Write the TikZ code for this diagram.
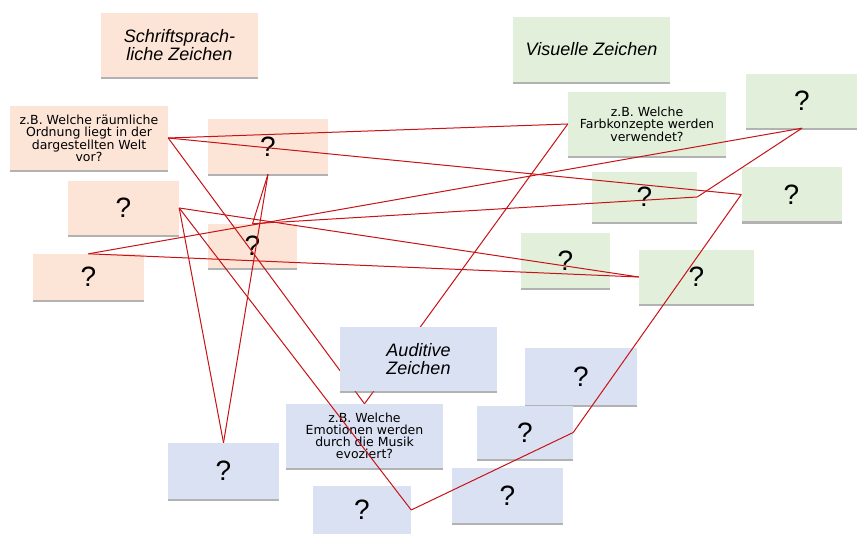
\documentclass[tikz,border=0pt]{standalone}
\usepackage{fontspec}
\setmainfont{Liberation Sans}
\newfontfamily\handfont{DejaVu Sans}
\usetikzlibrary{shadows}
\definecolor{peach}{RGB}{252,228,214}
\definecolor{leaf}{RGB}{226,239,218}
\definecolor{sky}{RGB}{218,225,242}
\definecolor{thread}{RGB}{200,18,22}
\begin{document}
\begin{tikzpicture}[x=1pt, y=-1pt,
    card/.style={rectangle, inner sep=0pt, align=center,
      drop shadow={shadow xshift=0pt, shadow yshift=-2.2pt, fill=black!55, opacity=0.55}},
    schrift/.style={card, fill=peach},
    visuell/.style={card, fill=leaf},
    auditiv/.style={card, fill=sky},
    titel/.style={font=\fontsize{18}{18}\selectfont\itshape},
    beispiel/.style={font=\handfont\fontsize{12.5}{12}\selectfont},
    frage/.style={font=\fontsize{28}{28}\selectfont},
    faden/.style={draw=thread, line width=1pt, line join=round}]
    \fill[white] (0,0) rectangle (857,534);
    \useasboundingbox (0,0) rectangle (857,534);

    % schriftsprachliche Zeichen
    \node[schrift, titel, minimum width=157pt, minimum height=64pt] (ptitel) at (179.5,45) {Schriftsprach-\\liche Zeichen};
    \node[schrift, beispiel, minimum width=158pt, minimum height=64pt] (pbsp) at (89,138) {z.B. Welche räumliche\\Ordnung liegt in der\\dargestellten Welt\\vor?};
    \node[schrift, frage, minimum width=120pt, minimum height=55pt] (pa) at (268,146.5) {?};
    \node[schrift, frage, minimum width=111pt, minimum height=54pt] (pb) at (123.5,208) {?};
    \node[schrift, frage, minimum width=89pt, minimum height=44pt] (pc) at (252.5,246) {?};
    \node[schrift, frage, minimum width=111pt, minimum height=46pt] (pd) at (88.5,277) {?};

    % visuelle Zeichen
    \node[visuell, titel, minimum width=157pt, minimum height=65pt] (vtitel) at (591.5,49.5) {Visuelle Zeichen};
    \node[visuell, beispiel, minimum width=158pt, minimum height=64pt] (vbsp) at (647,124) {z.B. Welche\\Farbkonzepte werden\\verwendet?};
    \node[visuell, frage, minimum width=112pt, minimum height=54pt] (va) at (802,101) {?};
    \node[visuell, frage, minimum width=105pt, minimum height=50pt] (vb) at (644.5,197) {?};
    \node[visuell, frage, minimum width=100pt, minimum height=54pt] (vc) at (791.5,194.5) {?};
    \node[visuell, frage, minimum width=89pt, minimum height=55pt] (vd) at (565.5,260.5) {?};
    \node[visuell, frage, minimum width=115pt, minimum height=54pt] (ve) at (696.5,277) {?};

    % auditive Zeichen
    \node[auditiv, beispiel, minimum width=157pt, minimum height=64pt] (absp) at (364.5,436) {z.B. Welche\\Emotionen werden\\durch die Musik\\evoziert?};
    \node[auditiv, frage, minimum width=112pt, minimum height=57pt] (aa) at (581,376.5) {?};
    \node[auditiv, frage, minimum width=96pt, minimum height=53pt] (ab) at (525,432.5) {?};
    \node[auditiv, frage, minimum width=111pt, minimum height=56pt] (ac) at (223.5,471) {?};
    \node[auditiv, frage, minimum width=98pt, minimum height=48pt] (ad) at (362,510) {?};
    \node[auditiv, frage, minimum width=111pt, minimum height=55pt] (ae) at (507.5,495.5) {?};

    % Verbindungen
    \draw[faden] (pbsp.east) -- (vbsp.west);
    \draw[faden] (pbsp.east) -- (vc.west);
    \draw[faden] (pbsp.east) -- (absp.north);
    \draw[faden] (vbsp.west) -- (absp.north);
    \draw[faden] (pd.north) -- (va.south);
    \draw[faden] (pd.north) -- (ve.west);
    \draw[faden] (pb.east) -- (ve.west);
    \draw[faden] (pb.east) -- (ac.north);
    \draw[faden] (pa.south) -- (ac.north);
    \draw[faden] (pb.east) -- (ad.east);
    \draw[faden] (ad.east) -- (ab.east);
    \draw[faden] (ab.east) -- (vc.west);
    \draw[faden] (vb.east) -- (va.south);
    \draw[faden] (pc.north) -- (vb.east);
    \draw[faden] (pa.south) -- (pc.north);

    \node[auditiv, titel, minimum width=157pt, minimum height=64pt] (atitel) at (418.5,359) {Auditive\\Zeichen};
\end{tikzpicture}
\end{document}
